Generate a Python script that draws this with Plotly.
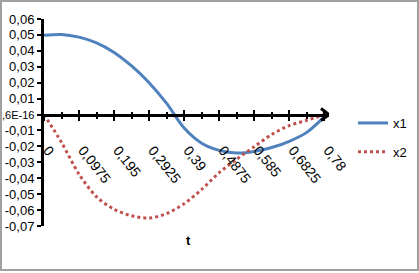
import plotly.graph_objects as go

# ---- data ----
t = [0, 0.04875, 0.0975, 0.14625, 0.195, 0.24375, 0.2925, 0.34125, 0.39,
     0.43875, 0.4875, 0.53625, 0.585, 0.63375, 0.6825, 0.73125, 0.78]
x1 = [0.0498, 0.0503, 0.0486, 0.0450, 0.0390, 0.0305, 0.0200, 0.0070, -0.0085,
      -0.0180, -0.0225, -0.0242, -0.0232, -0.0207, -0.0168, -0.0112, -0.0015]
x2 = [0.0, -0.0175, -0.0375, -0.0517, -0.0595, -0.0636, -0.0650, -0.0622, -0.0560,
      -0.0470, -0.0365, -0.0280, -0.0202, -0.0125, -0.0069, -0.0036, 0.0]
xtick_vals = [0, 0.0975, 0.195, 0.2925, 0.39, 0.4875, 0.585, 0.6825, 0.78]
xtick_text = ["0", "0,0975", "0,195", "0,2925", "0,39", "0,4875", "0,585", "0,6825", "0,78"]
ytick_vals = [0.06, 0.05, 0.04, 0.03, 0.02, 0.01, 0, -0.01, -0.02, -0.03, -0.04, -0.05, -0.06, -0.07]
ytick_text = ["0,06", "0,05", "0,04", "0,03", "0,02", "0,01",
              "<span style='font-size:11px'>,6E-16</span>", "-0,01", "-0,02",
              "-0,03", "-0,04", "-0,05", "-0,06", "-0,07"]

W, H = 419, 273
L, R, T, B = 44, 90, 19, 47
pw, ph = W - L - R, H - T - B
yr = [-0.07, 0.06]
xr = [0, 0.793]
zero_pos = (0 - yr[0]) / (yr[1] - yr[0])

FONT = "Liberation Sans Narrow, Liberation Sans, Arial, sans-serif"

fig = go.Figure()
fig.add_trace(go.Scatter(x=t, y=x1, mode="lines", name="x1",
                         line=dict(color="#4f81bd", width=3, shape="spline", smoothing=0.8),
                         legendgroup="a"))
fig.add_trace(go.Scatter(x=t, y=x2, mode="lines", name="x2",
                         line=dict(color="#c0504d", width=3, dash="dot", shape="spline", smoothing=0.8),
                         legendgroup="b"))
fig.add_trace(go.Scatter(x=t, y=x1, mode="lines", xaxis="x2", showlegend=False,
                         line=dict(width=0), hoverinfo="skip", opacity=0))

axis_common = dict(range=xr, showgrid=False, zeroline=False, showline=True,
                   linecolor="black", linewidth=3, tickcolor="black")
minor_vals = [v + 0.04875 for v in xtick_vals[:-1]]
fig.update_layout(
    width=W, height=H,
    margin=dict(l=L, r=R, t=T, b=B, autoexpand=False),
    paper_bgcolor="white", plot_bgcolor="white",
    font=dict(family=FONT, size=13, color="black"),
    xaxis=dict(**axis_common, anchor="free", position=zero_pos,
               tickmode="array", tickvals=xtick_vals, ticktext=xtick_text,
               ticks="outside", ticklen=4, tickwidth=2, tickangle=52,
               ticklabelstandoff=16, ticklabelshift=4,
               tickfont=dict(family=FONT, size=14),
               minor=dict(tickvals=minor_vals, ticks="outside", ticklen=2,
                          tickwidth=2, tickcolor="black")),
    xaxis2=dict(**axis_common, anchor="free", position=zero_pos, overlaying="x",
                tickmode="array", tickvals=xtick_vals, showticklabels=False,
                ticks="inside", ticklen=4, tickwidth=2,
                minor=dict(tickvals=minor_vals, ticks="inside", ticklen=2,
                           tickwidth=2, tickcolor="black")),
    yaxis=dict(range=yr, showgrid=False, zeroline=False, showline=True,
               linecolor="black", linewidth=3, tickmode="array",
               tickvals=ytick_vals, ticktext=ytick_text, ticks="outside",
               ticklen=4, tickwidth=2, tickcolor="black",
               tickfont=dict(family=FONT, size=13)),
    legend=dict(x=(353 - L) / pw, y=(H - B - 108) / ph, xanchor="left", yanchor="top",
                tracegroupgap=9, font=dict(family=FONT, size=13),
                bgcolor="rgba(0,0,0,0)"),
    showlegend=True,
)

# axis arrow head
fig.add_shape(type="path", xref="x", yref="y", xsizemode="pixel", ysizemode="pixel",
              xanchor=xr[1], yanchor=0, path="M -8 6 L 0 0 L -8 -6",
              line=dict(color="black", width=3))
# axis title
fig.add_annotation(text="<b>t</b>", xref="paper", yref="paper", x=(188 - L) / pw,
                   y=(H - B - 240) / ph, xanchor="center", yanchor="middle",
                   showarrow=False, font=dict(family=FONT, size=13))
# chart frame
fig.add_shape(type="rect", xref="paper", yref="paper",
              x0=(1 - L) / pw, x1=(418 - L) / pw, y0=(H - B - 270) / ph, y1=(H - B - 1) / ph,
              line=dict(color="#a0a0a0", width=2), layer="below")

fig.write_html("out.html", config={"displayModeBar": False},
               post_script="document.body.style.margin='0';document.body.style.overflow='hidden';")
